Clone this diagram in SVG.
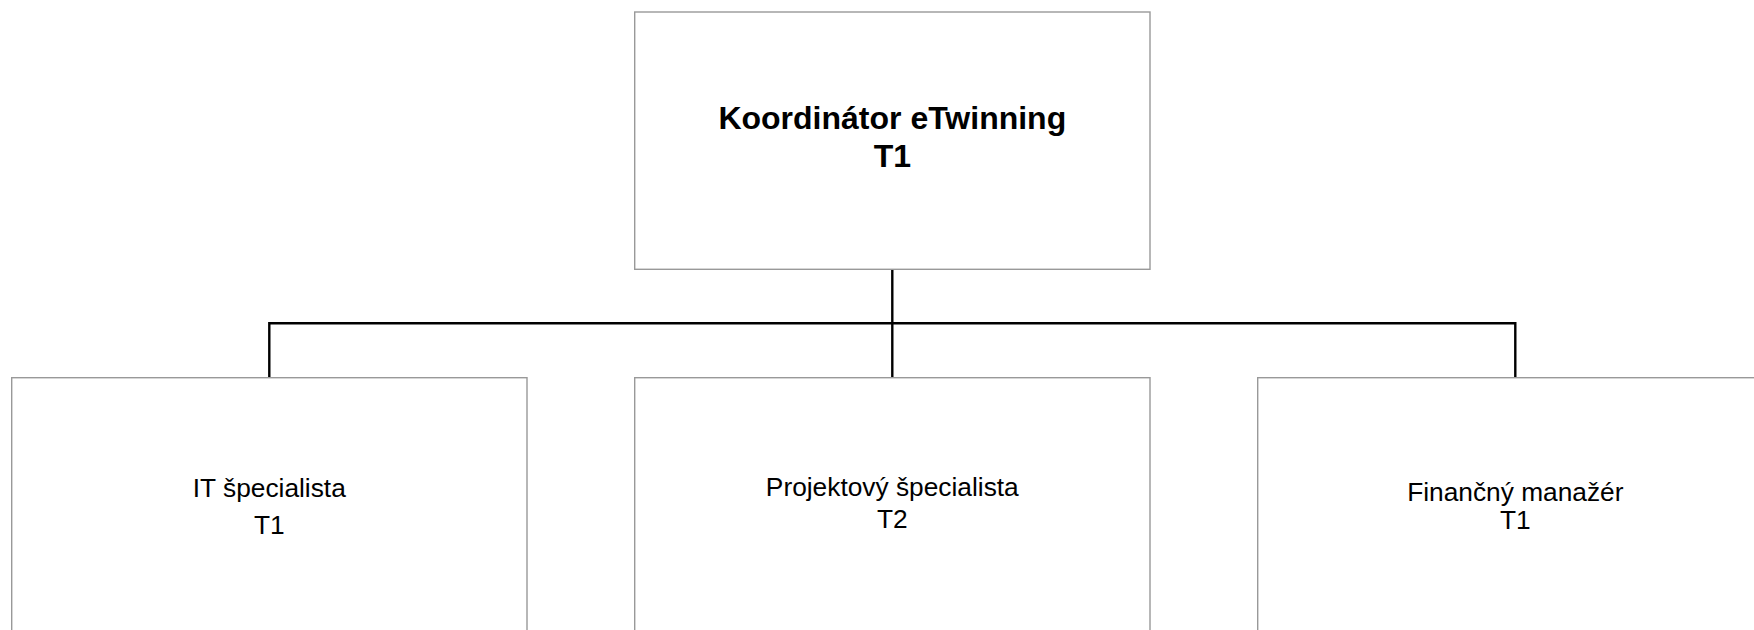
<svg xmlns="http://www.w3.org/2000/svg" width="1754" height="630" viewBox="0 0 1754 630">
<style>
.box{fill:#ffffff;stroke:#999999;stroke-width:1.4}
.conn{fill:none;stroke:#000000;stroke-width:2.4}
.t{font-family:"Liberation Sans",Arial,sans-serif;font-size:26.3px;fill:#000000;text-anchor:middle}
.tb{font-family:"Liberation Sans",Arial,sans-serif;font-size:32px;font-weight:bold;fill:#000000;text-anchor:middle}
</style>
<rect x="0" y="0" width="1754" height="630" fill="#ffffff"/>
<g id="connectors">
<path class="conn" d="M892.3 269.3 V377.7"/>
<path class="conn" d="M269.3 377.7 V323.3 H1515.3 V377.7"/>
</g>
<g id="node-koordinator">
<rect class="box" x="634.7" y="12" width="515.3" height="257.3"/>
<text class="tb" x="892.3" y="129.3">Koordinátor eTwinning</text>
<text class="tb" x="892.3" y="167.3">T1</text>
</g>
<g id="node-it">
<rect class="box" x="11.7" y="377.7" width="515.3" height="270"/>
<text class="t" x="269.3" y="496.7">IT špecialista</text>
<text class="t" x="269.3" y="534.3">T1</text>
</g>
<g id="node-projekt">
<rect class="box" x="634.7" y="377.7" width="515.3" height="270"/>
<text class="t" x="892.3" y="496">Projektový špecialista</text>
<text class="t" x="892.3" y="527.8">T2</text>
</g>
<g id="node-financny">
<rect class="box" x="1257.7" y="377.7" width="515.3" height="270"/>
<text class="t" x="1515.3" y="500.7">Finančný manažér</text>
<text class="t" x="1515.3" y="529.3">T1</text>
</g>
</svg>
